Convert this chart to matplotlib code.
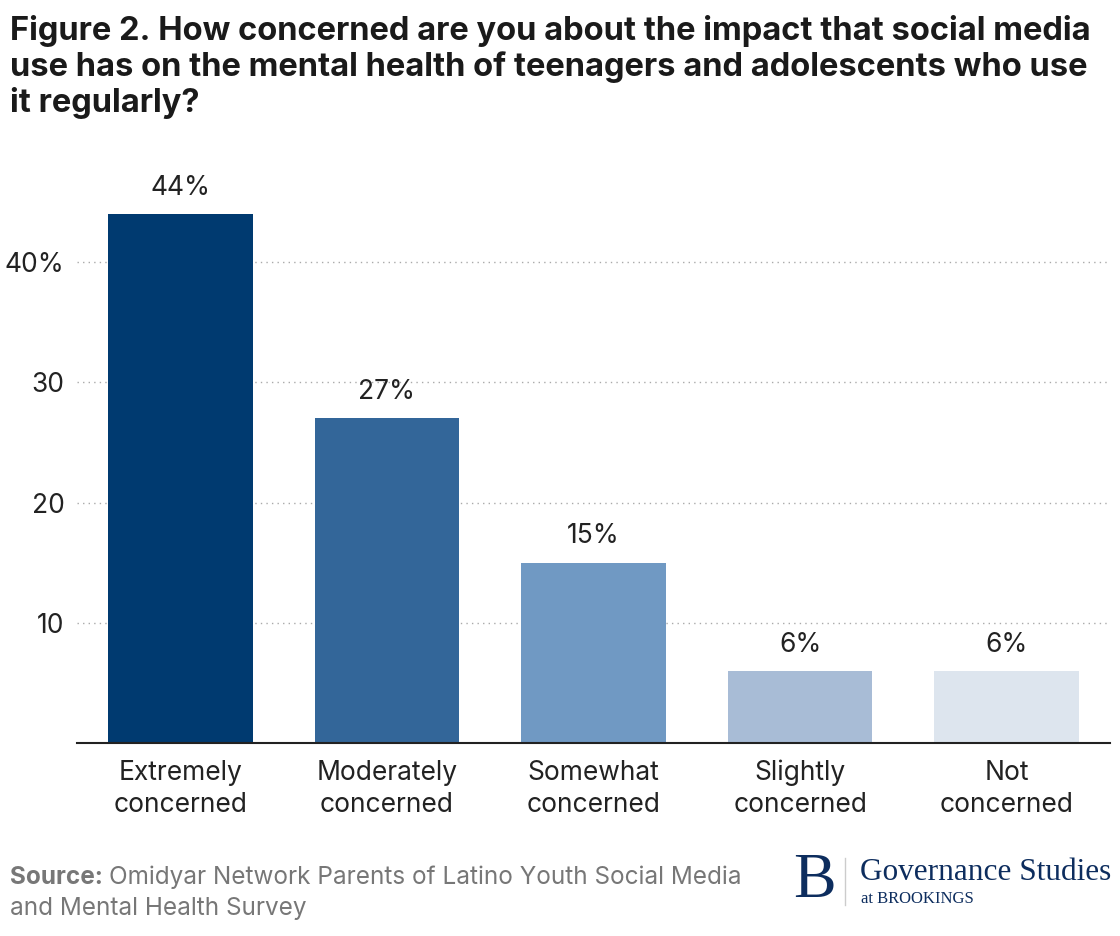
import matplotlib
matplotlib.use("Agg")
import matplotlib.pyplot as plt

categories = ["Extremely\nconcerned", "Moderately\nconcerned", "Somewhat\nconcerned",
              "Slightly\nconcerned", "Not\nconcerned"]
values = [44, 27, 15, 6, 6]
bar_labels = ["44%", "27%", "15%", "6%", "6%"]
colors = ["#003a70", "#336699", "#7099c3", "#a8bcd6", "#dde5ee"]
yticks = [10, 20, 30, 40]
ytick_labels = ["10", "20", "30", "40%"]

plt.rcParams['font.family'] = ['Inter', 'DejaVu Sans']

fig = plt.figure(figsize=(11.2, 9.36), dpi=100)
W, H = 1120, 936
ax = fig.add_axes([77/W, 1-743/H, (1110-77)/W, (743-190)/H])

x = range(len(values))
ax.bar(x, values, width=0.70, color=colors, zorder=2)
for xi, v, lab in zip(x, values, bar_labels):
    ax.text(xi, v + 1.1, lab, ha='center', va='bottom', fontsize=19, color='#222222')

ax.set_xlim(-0.5, 4.5)
ax.set_ylim(0, 46)
ax.set_yticks(yticks)
ax.set_yticklabels(ytick_labels)
ax.set_xticks(list(x))
ax.set_xticklabels(categories, linespacing=1.3)
ax.tick_params(axis='y', length=0, pad=9, labelsize=19, labelcolor='#222222')
ax.tick_params(axis='x', length=0, pad=12, labelsize=19, labelcolor='#222222')
ax.grid(axis='y', linestyle=(0, (1, 3)), color='#aaaaaa', linewidth=1, zorder=0)
for s in ['top', 'right', 'left']:
    ax.spines[s].set_visible(False)
ax.spines['bottom'].set_color('#222222')
ax.spines['bottom'].set_linewidth(1.5)

fig.text(10/W, 1-15/H, "Figure 2. How concerned are you about the impact that social media\n"
         "use has on the mental health of teenagers and adolescents who use\nit regularly?",
         ha='left', va='top', fontsize=23.5, fontweight='bold', color='#1a1a1a', linespacing=1.16)

src1 = fig.text(10/W, 1-877/H, "Source:", fontsize=17.5, color='#777777', fontweight='bold',
                ha='left', va='center')
fig.text(10/W, 1-909/H, "and Mental Health Survey", fontsize=17.5, color='#777777',
         ha='left', va='center')
fig.canvas.draw()
r = fig.canvas.get_renderer()
bb = src1.get_window_extent(r)
fig.text((bb.x1 + 6)/W, 1-877/H, "Omidyar Network Parents of Latino Youth Social Media",
         fontsize=17.5, color='#777777', ha='left', va='center')

navy = '#0d2d5e'
fig.text(814/W, 1-882/H, "B", fontsize=46, family='Liberation Serif', color=navy,
         ha='center', va='center')
fig.add_artist(plt.Line2D([845/W, 845/W], [1-858/H, 1-905/H], color='#cccccc', linewidth=1))
fig.text(860/W, 1-873/H, "Governance Studies", fontsize=22.5, family='Liberation Serif',
         color=navy, ha='left', va='center')
fig.text(861/W, 1-899/H, "at BROOKINGS", fontsize=12, family='Liberation Serif',
         color=navy, ha='left', va='center')

fig.savefig("out.png", dpi=100, facecolor='white')
